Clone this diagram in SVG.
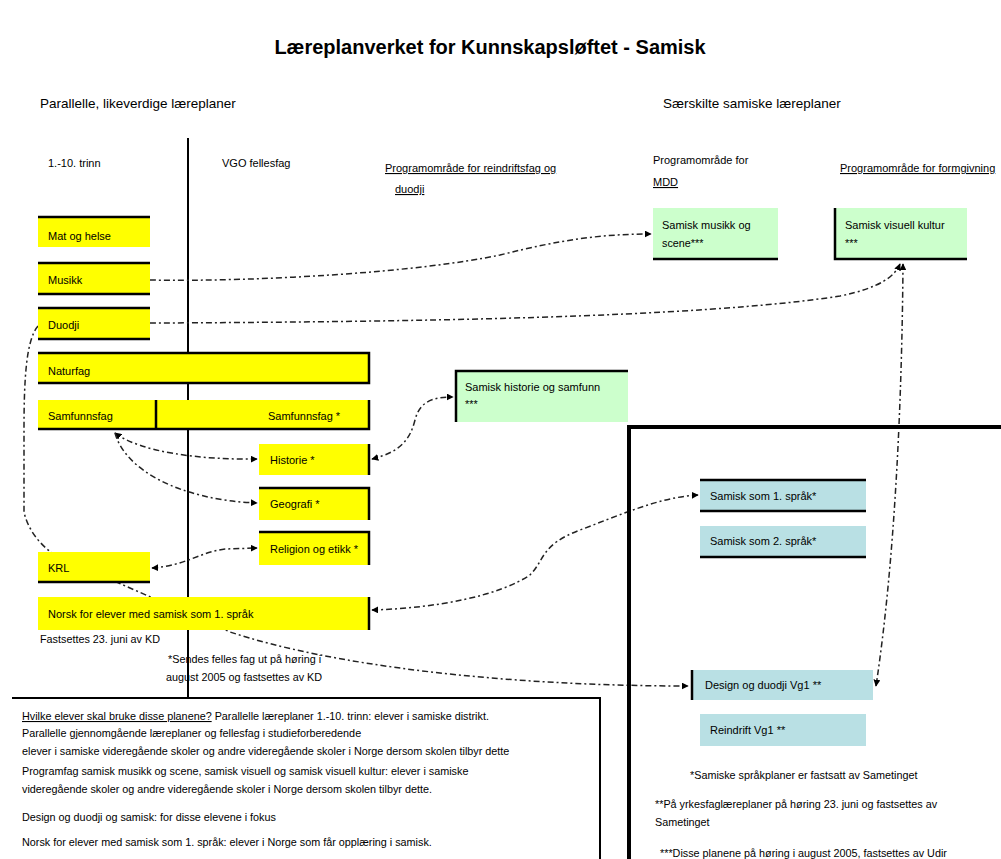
<svg xmlns="http://www.w3.org/2000/svg" width="1001" height="859" viewBox="0 0 1001 859">
<style>
.t{font-family:"Liberation Sans",Arial,sans-serif;font-size:11px;fill:#000}
.h{font-family:"Liberation Sans",Arial,sans-serif;font-size:13.5px;fill:#000}
.s{font-family:"Liberation Sans",Arial,sans-serif;font-size:10.8px;fill:#000}
.y{fill:#FFFF00}
.g{fill:#CCFFCC}
.b{fill:#B9E0E4}
.ln{stroke:#000;stroke-width:2.5;fill:none}
.c{fill:none;stroke:#222;stroke-width:1.5;stroke-dasharray:6 3 2 3}
</style>
<defs>
<marker id="ar" viewBox="0 0 10 10" refX="9" refY="5" markerWidth="7" markerHeight="7" orient="auto-start-reverse" markerUnits="userSpaceOnUse">
<path d="M0,0 L10,5 L0,10 z" fill="#000"/>
</marker>
</defs>
<rect width="1001" height="859" fill="#fff"/>
<text x="490" y="54" text-anchor="middle" font-family="Liberation Sans,Arial,sans-serif" font-size="20" font-weight="bold">Læreplanverket for Kunnskapsløftet - Samisk</text>
<text class="h" x="40" y="108">Parallelle, likeverdige læreplaner</text>
<text class="h" x="663" y="108">Særskilte samiske læreplaner</text>
<text class="t" x="48" y="167">1.-10. trinn</text>
<text class="t" x="222" y="167">VGO fellesfag</text>
<text class="t" x="385" y="172" text-decoration="underline">Programområde for reindriftsfag og</text>
<text class="t" x="395" y="193" text-decoration="underline">duodji</text>
<text class="t" x="653" y="164">Programområde for</text>
<text class="t" x="653" y="186" text-decoration="underline">MDD</text>
<text class="t" x="840" y="172" text-decoration="underline">Programområde for formgivning</text>
<line x1="188" y1="138" x2="188" y2="698" stroke="#000" stroke-width="2"/>
<g id="connectors">
<path class="c" d="M38,326 C26,340 24,380 24,430 L24,512 C28,530 40,545 55,555 L230,632 C330,665 500,686 688,686" marker-end="url(#ar)"/>
<path class="c" d="M150,280 C260,282 420,272 500,255 C560,240 600,234 651,234" marker-end="url(#ar)"/>
<path class="c" d="M150,323 C400,322 700,318 840,296 C880,288 895,276 900,264" marker-end="url(#ar)"/>
<path class="c" d="M115,433 C140,452 200,460 257,459" marker-start="url(#ar)" marker-end="url(#ar)"/>
<path class="c" d="M115,433 C125,470 180,500 257,503" marker-end="url(#ar)"/>
<path class="c" d="M152,568 C185,566 200,552 225,549 L257,548" marker-start="url(#ar)" marker-end="url(#ar)"/>
<path class="c" d="M372,459 C400,452 410,440 415,420 C420,400 435,397 453,397" marker-start="url(#ar)" marker-end="url(#ar)"/>
<path class="c" d="M372,610 C440,608 500,595 530,575 C545,560 540,545 580,530 C620,515 660,497 698,495" marker-start="url(#ar)" marker-end="url(#ar)"/>
<path class="c" d="M903,264 C902,400 895,560 876,686" marker-start="url(#ar)" marker-end="url(#ar)"/>
</g>
<g id="mat">
<rect class="y" x="38" y="216" width="112" height="31"/>
<line class="ln" x1="38" y1="217" x2="150" y2="217"/>
<text class="t" x="48" y="240">Mat og helse</text>
</g>
<g id="musikk">
<rect class="y" x="38" y="262" width="112" height="33"/>
<path class="ln" d="M38,263 H150 M38,294 H150"/>
<text class="t" x="48" y="284">Musikk</text>
</g>
<g id="duodji">
<rect class="y" x="38" y="307" width="112" height="33"/>
<path class="ln" d="M38,308 H150 M38,339 H150"/>
<text class="t" x="48" y="329">Duodji</text>
</g>
<g id="naturfag">
<rect class="y" x="38" y="352" width="332" height="32"/>
<path class="ln" d="M38,353 H369 V383 H38"/>
<text class="t" x="48" y="375">Naturfag</text>
</g>
<g id="samfunnsfag">
<rect class="y" x="38" y="400" width="332" height="30"/>
<path class="ln" d="M369,400 V429 H38 M156,400 V429"/>
<text class="t" x="48" y="420">Samfunnsfag</text>
<text class="t" x="268" y="420">Samfunnsfag *</text>
</g>
<g id="historie">
<rect class="y" x="259" y="444" width="111" height="31"/>
<path class="ln" d="M369,444 V475"/>
<text class="t" x="270" y="464">Historie *</text>
</g>
<g id="geografi">
<rect class="y" x="259" y="487" width="111" height="33"/>
<path class="ln" d="M259,488 H369 V520"/>
<text class="t" x="270" y="508">Geografi *</text>
</g>
<g id="religion">
<rect class="y" x="259" y="531" width="111" height="34"/>
<path class="ln" d="M259,532 H369 V565"/>
<text class="t" x="270" y="553">Religion og etikk *</text>
</g>
<g id="krl">
<rect class="y" x="38" y="552" width="112" height="31"/>
<path class="ln" d="M38,582 H150"/>
<text class="t" x="48" y="572">KRL</text>
</g>
<g id="norsk">
<rect class="y" x="38" y="597" width="332" height="33"/>
<path class="ln" d="M369,597 V630"/>
<text class="t" x="48" y="618">Norsk for elever med samisk som 1. språk</text>
</g>
<text class="s" x="40" y="643">Fastsettes 23. juni av KD</text>
<text class="s" x="168" y="663">*Sendes felles fag ut på høring i</text>
<text class="s" x="166" y="681">august 2005 og fastsettes av KD</text>
<g id="mdd">
<rect class="g" x="653" y="208" width="125" height="52"/>
<path class="ln" d="M653,259 H778"/>
<text class="t" x="662" y="229">Samisk musikk og</text>
<text class="s" x="662" y="247">scene***</text>
</g>
<g id="visuell">
<rect class="g" x="834" y="208" width="133" height="52"/>
<path class="ln" d="M835,208 V259 H967"/>
<text class="t" x="845" y="229">Samisk visuell kultur</text>
<text class="s" x="845" y="247">***</text>
</g>
<g id="historie-samfunn">
<rect class="g" x="455" y="370" width="173" height="52"/>
<path class="ln" d="M456,422 V371 H628"/>
<text class="t" x="465" y="391">Samisk historie og samfunn</text>
<text class="s" x="465" y="408">***</text>
</g>
<path d="M1003,427 H629 V861" fill="none" stroke="#000" stroke-width="4"/>
<g id="samisk1">
<rect class="b" x="700" y="479" width="166" height="33"/>
<path class="ln" d="M700,480 H866 M700,511 H866"/>
<text class="t" x="710" y="500">Samisk som 1. språk*</text>
</g>
<g id="samisk2">
<rect class="b" x="700" y="526" width="166" height="31"/>
<path class="ln" d="M700,557 H866"/>
<text class="t" x="710" y="545">Samisk som 2. språk*</text>
</g>
<g id="design">
<rect class="b" x="692" y="670" width="181" height="30"/>
<path class="ln" d="M692,670 V700"/>
<text class="t" x="705" y="689">Design og duodji Vg1 **</text>
</g>
<g id="reindrift">
<rect class="b" x="700" y="714" width="166" height="32"/>
<text class="t" x="710" y="734">Reindrift Vg1 **</text>
</g>
<text class="s" x="690" y="779">*Samiske språkplaner er fastsatt av Sametinget</text>
<text class="s" x="655" y="808">**På yrkesfaglæreplaner på høring 23. juni og fastsettes av</text>
<text class="s" x="655" y="826">Sametinget</text>
<text class="s" x="660" y="857">***Disse planene på høring i august 2005, fastsettes av Udir</text>
<g id="info">
<path d="M12,698 H600 V861" fill="none" stroke="#000" stroke-width="2"/>
<text class="s" x="22" y="720"><tspan text-decoration="underline">Hvilke elever skal bruke disse planene?</tspan> Parallelle læreplaner 1.-10. trinn: elever i samiske distrikt.</text>
<text class="s" x="22" y="737">Parallelle gjennomgående læreplaner og fellesfag i studieforberedende</text>
<text class="s" x="22" y="755">elever i samiske videregående skoler og andre videregående skoler i Norge dersom skolen tilbyr dette</text>
<text class="s" x="22" y="775">Programfag samisk musikk og scene, samisk visuell og samisk visuell kultur: elever i samiske</text>
<text class="s" x="22" y="793">videregående skoler og andre videregående skoler i Norge dersom skolen tilbyr dette.</text>
<text class="s" x="22" y="821">Design og duodji og samisk: for disse elevene i fokus</text>
<text class="s" x="22" y="846">Norsk for elever med samisk som 1. språk: elever i Norge som får opplæring i samisk.</text>
</g>
</svg>
